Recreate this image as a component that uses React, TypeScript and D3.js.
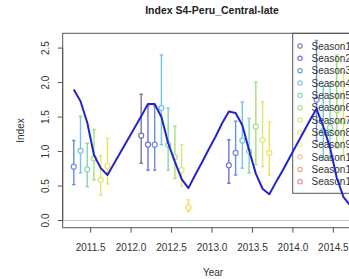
import * as d3 from "d3";

// monthly index (model line)
const lineMonths = [
  "2011-04", "2011-05", "2011-06", "2011-07", "2011-08", "2011-09", "2011-10", "2011-11", "2011-12",
  "2012-01", "2012-02", "2012-03", "2012-04", "2012-05", "2012-06", "2012-07", "2012-08", "2012-09",
  "2012-10", "2012-11", "2012-12",
  "2013-01", "2013-02", "2013-03", "2013-04", "2013-05", "2013-06", "2013-07", "2013-08", "2013-09",
  "2013-10", "2013-11", "2013-12",
  "2014-01", "2014-02", "2014-03", "2014-04", "2014-05", "2014-06", "2014-07", "2014-08", "2014-09",
];
const lineValues = [
  1.9, 1.73, 1.42, 0.95, 0.76, 0.66, 0.83, 1.0, 1.17,
  1.34, 1.51, 1.69, 1.69, 1.5, 1.12, 0.85, 0.6, 0.47,
  0.66, 0.84, 1.03,
  1.21, 1.41, 1.58, 1.56, 1.38, 1.02, 0.68, 0.46, 0.38,
  0.56, 0.73, 0.91,
  1.09, 1.27, 1.45, 1.62, 1.36, 1.06, 0.62, 0.34, 0.22,
];

// observed seasons with intervals
const obsMonths = [
  "2011-04", "2011-05", "2011-06", "2011-07", "2011-08", "2011-09",
  "2012-02", "2012-03", "2012-04", "2012-05", "2012-06", "2012-07", "2012-08", "2012-09",
  "2013-03", "2013-04", "2013-05", "2013-06", "2013-07", "2013-08", "2013-09",
  "2014-04", "2014-05", "2014-06", "2014-07", "2014-08",
];
const obsValues = [
  0.78, 1.01, 0.74, 0.9, 0.59, 0.79,
  1.23, 1.1, 1.1, 1.63, 1.1, 0.92, 0.73, 0.19,
  0.8, 0.98, 1.16, 1.0, 1.36, 1.17, 0.98,
  1.75, 1.3, 1.35, 1.6, 1.45,
];
const obsLow = [
  0.52, 0.69, 0.49, 0.59, 0.37, 0.53,
  0.83, 0.73, 0.73, 1.1, 0.73, 0.61, 0.5, 0.13,
  0.54, 0.66, 0.76, 0.69, 0.81, 0.78, 0.66,
  1.15, 0.88, 0.9, 1.05, 0.95,
];
const obsHigh = [
  1.16, 1.51, 1.12, 1.32, 0.94, 1.19,
  1.83, 1.66, 1.66, 2.4, 1.63, 1.37, 1.1, 0.3,
  1.17, 1.44, 1.72, 1.48, 2.01, 1.72, 1.43,
  2.61, 1.95, 2.0, 2.4, 2.15,
];
const obsSeason = [
  3, 4, 5, 6, 7, 8,
  1, 2, 3, 4, 5, 6, 7, 8,
  2, 3, 4, 5, 6, 7, 8,
  3, 4, 5, 6, 7,
];

const seasonNames = [
  "Season1", "Season2", "Season3", "Season4", "Season5", "Season6",
  "Season7", "Season8", "Season9", "Season10", "Season11", "Season12",
];
const seasonColors = [
  "#76769f", "#7272d8", "#6690de", "#78c2e6", "#7fd8b0", "#a4e07e",
  "#d8ea74", "#f0e060", "#f6ee7c", "#f4c49c", "#eea878", "#de8a8a",
];

const xTicks = [2011.5, 2012.0, 2012.5, 2013.0, 2013.5, 2014.0, 2014.5];
const yTicks = [0.0, 0.5, 1.0, 1.5, 2.0, 2.5];

const W = 349;
const H = 279;
const left = 62.7;
const right = 361.3;
const top = 33.3;
const bottom = 227.7;
const font = "'Liberation Sans', Arial, sans-serif";

const toYear = (m: string) => {
  const [yr, mo] = m.split("-").map(Number);
  return yr + (mo - 0.5) / 12;
};

export default function App() {
  const lineT = lineMonths.map(toYear);
  const [t0, t1] = d3.extent(lineT) as [number, number];
  const xPad = (t1 - t0) * 0.04;
  const x = d3.scaleLinear().domain([t0 - xPad, t1 + xPad]).range([left, right]);

  const yMax = d3.max(obsHigh) as number;
  const yPad = yMax * 0.04;
  const y = d3.scaleLinear().domain([-yPad, yMax + yPad]).range([bottom, top]);

  const line = d3
    .line<number>()
    .x((_, i) => x(lineT[i]))
    .y((d) => y(d));

  const fmt = d3.format(".1f");
  const legX = 292.7;
  const legStep = 12.34;

  return (
    <svg
      width={W}
      height={H}
      style={{ position: "absolute", left: 0, top: 0, background: "#fff" }}
      fontFamily={font}
    >
      <text x={212} y={13.5} textAnchor="middle" fontSize={10.5} fontWeight="bold" fill="#222">
        Index S4-Peru_Central-late
      </text>

      {/* zero line */}
      <line x1={left} x2={right} y1={y(0)} y2={y(0)} stroke="#c8c8c8" strokeWidth={1} />

      {/* error bars */}
      {obsMonths.map((m, i) => {
        const cx = x(toYear(m));
        const c = seasonColors[obsSeason[i] - 1];
        return (
          <g key={m} stroke={c} strokeWidth={1.4}>
            <line x1={cx} x2={cx} y1={y(obsLow[i])} y2={y(obsHigh[i])} />
            <line x1={cx - 1.7} x2={cx + 1.7} y1={y(obsLow[i])} y2={y(obsLow[i])} />
            <line x1={cx - 1.7} x2={cx + 1.7} y1={y(obsHigh[i])} y2={y(obsHigh[i])} />
            <circle cx={cx} cy={y(obsValues[i])} r={2.5} fill="#fff" strokeWidth={1.2} />
          </g>
        );
      })}

      {/* legend */}
      <rect x={legX} y={top} width={90} height={160} fill="none" stroke="#555" strokeWidth={1} />
      {seasonNames.map((s, i) => (
        <g key={s}>
          <circle cx={300} cy={46 + i * legStep} r={2.2} fill="none" stroke={seasonColors[i]} strokeWidth={1.1} />
          <text x={311.5} y={46 + i * legStep + 3.6} fontSize={10} fill="#333">
            {s}
          </text>
        </g>
      ))}

      {/* model line */}
      <path d={line(lineValues) ?? ""} fill="none" stroke="#2424cc" strokeWidth={2} strokeLinejoin="round" />

      {/* box */}
      <rect x={left} y={top} width={right - left} height={bottom - top} fill="none" stroke="#555" strokeWidth={1} />

      {/* y axis */}
      {yTicks.map((v) => (
        <g key={v}>
          <line x1={left - 5} x2={left} y1={y(v)} y2={y(v)} stroke="#555" />
          <text
            transform={`translate(49,${y(v)}) rotate(-90)`}
            textAnchor="middle"
            fontSize={10}
            fill="#333"
          >
            {fmt(v)}
          </text>
        </g>
      ))}
      <line x1={left} x2={left} y1={y(yTicks[0])} y2={y(yTicks[yTicks.length - 1])} stroke="#555" />

      {/* x axis */}
      {xTicks.map((v) => (
        <g key={v}>
          <line x1={x(v)} x2={x(v)} y1={bottom} y2={bottom + 5} stroke="#555" />
          <text x={x(v)} y={251} textAnchor="middle" fontSize={10} fill="#333">
            {fmt(v)}
          </text>
        </g>
      ))}

      <text x={213} y={276} textAnchor="middle" fontSize={10} fill="#333">
        Year
      </text>
      <text transform={`translate(24,${(top + bottom) / 2}) rotate(-90)`} textAnchor="middle" fontSize={10} fill="#333">
        Index
      </text>
    </svg>
  );
}
